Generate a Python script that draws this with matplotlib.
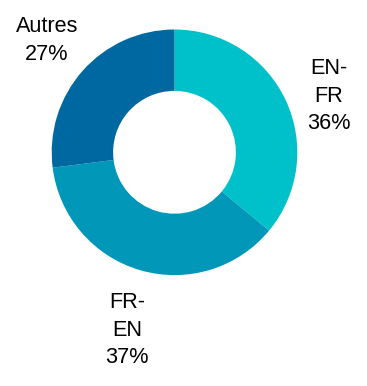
import matplotlib
matplotlib.use("Agg")
import matplotlib.pyplot as plt

# data
labels = ["EN-\nFR", "FR-\nEN", "Autres"]
values = [36, 37, 27]
colors = ["#00C1C9", "#0097B9", "#0068A0"]

# label text anchor (data coords, center of donut = 0,0, outer radius = 1)
label_pos = [(1.258, 0.458), (-0.387, -1.448), (-1.038, 0.91)]

plt.rcParams['font.family'] = ['Liberation Sans', 'DejaVu Sans']

fig = plt.figure(figsize=(3.67, 3.86), dpi=100)
ax = fig.add_axes([0, 0, 1, 1])

wedges, _ = ax.pie(values, colors=colors, startangle=90, counterclock=False,
                   radius=1.0, wedgeprops=dict(width=0.5, edgecolor='none'))

total = sum(values)
for lab, v, (x, y) in zip(labels, values, label_pos):
    pct = round(100 * v / total)
    ax.text(x, y, f"{lab}\n{pct}%", ha='center', va='center',
            fontsize=15.6, linespacing=1.42, color='black')

scale = 122.8
ax.set_xlim(-174.5 / scale, (367 - 174.5) / scale)
ax.set_ylim(-(386 - 152.3) / scale, 152.3 / scale)
ax.set_aspect('equal')
ax.axis('off')

fig.savefig("out.png", dpi=100)
